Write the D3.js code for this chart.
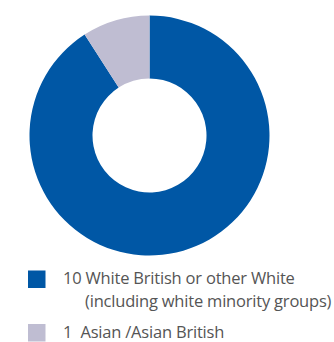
<!DOCTYPE html>
<html>
<head>
<meta charset="utf-8">
<script src="https://cdn.jsdelivr.net/npm/d3@7"></script>
<style>
  html, body { margin: 0; padding: 0; background: #fff; }
  svg { display: block; }
  text { white-space: pre; }
</style>
</head>
<body>
<svg id="chart" width="334" height="342"></svg>
<script>
// Ethnicity breakdown
const categories = ["White British or other White", "Asian /Asian British"];
const values = [10, 1];
const legendLines = [
  ["10 White British or other White", "(including white minority groups)"],
  ["1  Asian /Asian British"]
];
const colors = ["#0057a5", "#bfbdd2"];

const svg = d3.select("#chart");
const cx = 149.5, cy = 135.5, rOuter = 120, rInner = 57;

const pie = d3.pie().sort(null).value(d => d)(values);
const arc = d3.arc().innerRadius(rInner).outerRadius(rOuter);

svg.append("g")
  .attr("transform", `translate(${cx},${cy})`)
  .selectAll("path")
  .data(pie)
  .join("path")
  .attr("d", arc)
  .attr("fill", (d, i) => colors[i]);

// Legend
const font = "'Open Sans', sans-serif";
const legend = svg.append("g");
const rows = [270.5, 324];
categories.forEach((c, i) => {
  const g = legend.append("g").attr("transform", `translate(28,${rows[i]})`);
  g.append("rect").attr("width", 17.5).attr("height", 17.5).attr("fill", colors[i]);
  legendLines[i].forEach((line, j) => {
    g.append("text")
      .attr("x", j === 0 ? 35 : 57)
      .attr("y", 13.5 + j * 23)
      .attr("font-family", font)
      .attr("font-size", 16.5)
      .attr("letter-spacing", -0.2)
      .attr("fill", "#555")
      .text(line);
  });
});
</script>
</body>
</html>
